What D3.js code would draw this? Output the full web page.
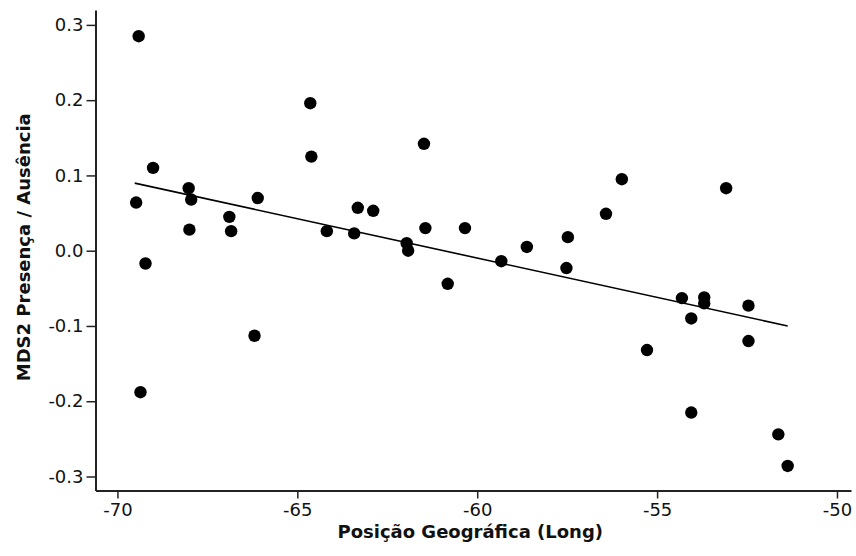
<!DOCTYPE html>
<html><head><meta charset="utf-8">
<script src="https://cdn.jsdelivr.net/npm/d3@7"></script>
<style>body{margin:0;background:#fff}svg{display:block}</style>
</head><body>
<svg id="c" width="856" height="556"></svg>
<script>
const longitude = [-69.41,-69.01,-68.02,-69.48,-67.95,-66.10,-66.89,-66.84,-68.00,-64.18,-69.22,-64.61,-66.19,-69.36,-64.64,-61.48,-63.32,-62.89,-63.42,-61.44,-60.34,-61.96,-61.92,-60.82,-59.33,-58.62,-57.48,-57.52,-55.98,-56.42,-53.08,-54.31,-53.69,-53.69,-52.46,-54.05,-52.46,-55.28,-54.05,-51.63,-51.37];
const mds2 = [0.285,0.110,0.083,0.064,0.068,0.070,0.045,0.026,0.028,0.026,-0.017,0.125,-0.113,-0.188,0.196,0.142,0.057,0.053,0.023,0.030,0.030,0.010,0.000,-0.044,-0.014,0.005,0.018,-0.023,0.095,0.049,0.083,-0.063,-0.062,-0.070,-0.073,-0.090,-0.120,-0.132,-0.215,-0.244,-0.286];
const fitX = [-69.52,-51.37];
const fitY = [0.0898,-0.100];
const xTicks = [-70,-65,-60,-55,-50];
const yTicks = [0.3,0.2,0.1,0.0,-0.1,-0.2,-0.3];

(function(){
const svg = d3.select("#c");
const mL = 95.5, mR = 851, mT = 10, mB = 490.5;
const x = d3.scaleLinear().domain([-70.61,-49.61]).range([mL,mR]);
const y = d3.scaleLinear().domain([-0.3186,0.3198]).range([mB,mT]);

const font = "'DejaVu Sans', Verdana, sans-serif";

const xAxis = svg.append("g").attr("transform",`translate(0,${mB})`)
  .call(d3.axisBottom(x).tickValues(xTicks).tickSize(8).tickPadding(5).tickSizeOuter(0).tickFormat(d3.format("d")));
const yAxis = svg.append("g").attr("transform",`translate(${mL},0)`)
  .call(d3.axisLeft(y).tickValues(yTicks).tickSize(9).tickPadding(3).tickSizeOuter(0).tickFormat(d3.format(".1f")));
[xAxis,yAxis].forEach(a=>{
  a.attr("font-family",font).attr("font-size",18);
  a.selectAll("path.domain").attr("stroke","#222").attr("stroke-width",2);
  a.selectAll(".tick line").attr("stroke","#222").attr("stroke-width",1.5);
  a.selectAll("text").attr("font-family",font).attr("font-size",18).attr("fill","#111");
});
yAxis.selectAll(".tick text").text(d => d3.format(".1f")(d).replace("−","-"));
xAxis.selectAll(".tick text").text(d => String(d));

svg.append("line")
  .attr("x1",x(fitX[0])).attr("y1",y(fitY[0]))
  .attr("x2",x(fitX[1])).attr("y2",y(fitY[1]))
  .attr("stroke","#000").attr("stroke-width",1.6);

svg.append("g").selectAll("circle").data(longitude.map((d,i)=>[d,mds2[i]])).join("circle")
  .attr("cx",d=>x(d[0])).attr("cy",d=>y(d[1])).attr("r",6.2).attr("fill","#000");

svg.append("text").attr("x",(mL+mR)/2 - 3).attr("y",538)
  .attr("text-anchor","middle").attr("font-family",font).attr("font-weight","bold").attr("font-size",18)
  .attr("fill","#111").text("Posição Geográfica (Long)");
svg.append("text").attr("transform",`translate(30,${(mT+mB)/2 - 3}) rotate(-90)`)
  .attr("text-anchor","middle").attr("font-family",font).attr("font-weight","bold").attr("font-size",18)
  .attr("fill","#111").text("MDS2 Presença / Ausência");
})();
</script>
</body></html>
